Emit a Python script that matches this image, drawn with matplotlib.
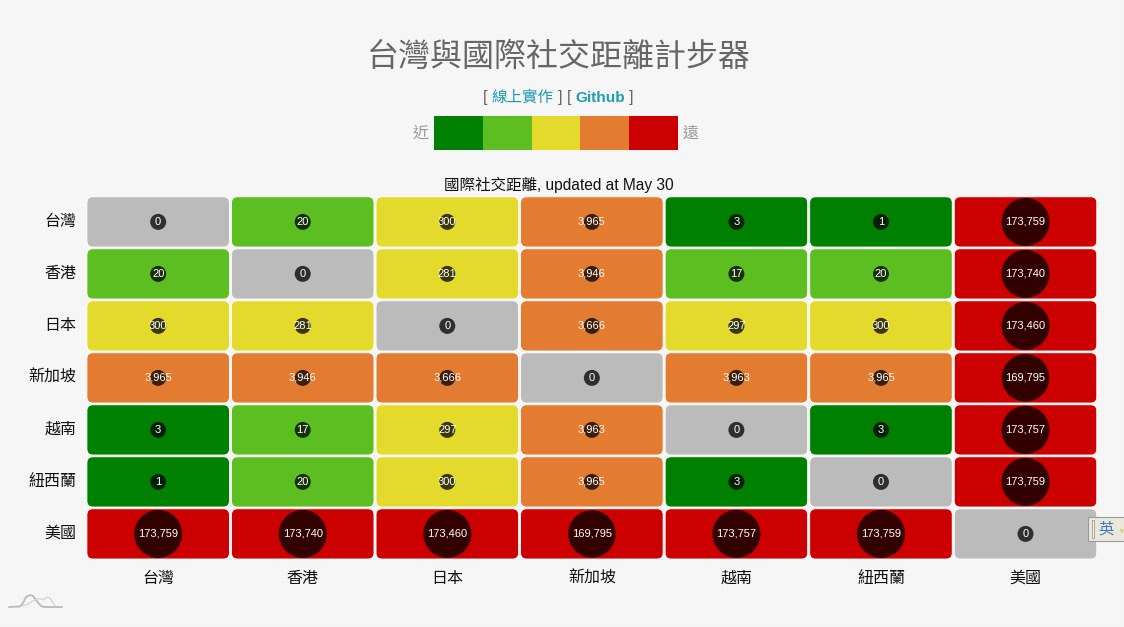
import numpy as np
import matplotlib
matplotlib.use("Agg")
import matplotlib.pyplot as plt
from matplotlib.patches import FancyBboxPatch, Rectangle
from matplotlib.transforms import ScaledTranslation

plt.rcParams['font.family'] = ['Liberation Sans', 'Noto Sans CJK TC', 'DejaVu Sans']

countries = ['台灣', '香港', '日本', '新加坡', '越南', '紐西蘭', '美國']
row_taiwan = [0, 20, 300, 3965, 3, 1, 173759]
row_hongkong = [20, 0, 281, 3946, 17, 20, 173740]
row_japan = [300, 281, 0, 3666, 297, 300, 173460]
row_singapore = [3965, 3946, 3666, 0, 3963, 3965, 169795]
row_vietnam = [3, 17, 297, 3963, 0, 3, 173757]
row_newzealand = [1, 20, 300, 3965, 3, 0, 173759]
row_usa = [173759, 173740, 173460, 169795, 173757, 173759, 0]
scale_colors = ['#008000', '#5dbe21', '#e3da2c', '#e37b30', '#cc0000']
scale_limits = [10, 100, 1000, 10000]
zero_color = '#bbbbbb'

W, H = 1124, 627
matrix = np.array([row_taiwan, row_hongkong, row_japan, row_singapore,
                   row_vietnam, row_newzealand, row_usa])

fig = plt.figure(figsize=(W / 100, H / 100), dpi=100, facecolor='#f5f5f5')


def px_axes(x0, y0, x1, y1, **kw):
    return fig.add_axes([x0 / W, 1 - y1 / H, (x1 - x0) / W, (y1 - y0) / H], **kw)


# overlay in pixel coordinates for page furniture
page = px_axes(0, 0, W, H)
page.set_xlim(0, W)
page.set_ylim(H, 0)
page.axis('off')
page.patch.set_alpha(0)

# subtle paper weave of the page
for gx in np.arange(0, W, 4):
    page.axvline(gx, color='#f8f8f8', lw=0.7, zorder=0)
for gy in np.arange(0, H, 4):
    page.axhline(gy, color='#f8f8f8', lw=0.7, zorder=0)

page.text(559, 56.5, '台灣與國際社交距離計步器', ha='center', va='center',
          fontsize=23, color='#666666', family=['Noto Sans CJK TC'])
link = '#1f9bb0'
grey = '#666666'
for x, s, c, w, fs in [(483, '[', grey, 'normal', 11.5), (491.5, '線上實作', link, 'normal', 11.2),
                       (558, ']', grey, 'normal', 11.5), (567, '[', grey, 'normal', 11.5),
                       (575.5, 'Github', link, 'bold', 11), (629, ']', grey, 'normal', 11.5)]:
    page.text(x, 97.5, s, ha='left', va='center', fontsize=fs, color=c, weight=w)
page.text(421, 133, '近', ha='center', va='center', fontsize=11.5, color='#999999')
page.text(691, 133, '遠', ha='center', va='center', fontsize=11.5, color='#999999')
page.text(559, 185, '國際社交距離, updated at May 30', ha='center', va='center',
          fontsize=11.2, color='#111111')

# small mountain logo
page.plot([9, 20, 23, 26, 30, 33, 36, 39, 42, 45, 62], [607, 606.5, 603, 597, 595, 596, 600, 604, 606.5, 607, 607],
          color='#bcbcbc', lw=1.4, solid_capstyle='round')
page.plot([23, 28, 33, 37, 40, 43, 47, 50, 53, 55], [606, 604, 601, 599, 598.5, 600, 597, 598, 603, 606],
          color='#d2d2d2', lw=0.9)

# colour scale legend
legend = px_axes(434, 116, 678, 150)
legend.set_xlim(0, len(scale_colors))
legend.set_ylim(0, 1)
legend.axis('off')
for i, c in enumerate(scale_colors):
    legend.add_patch(Rectangle((i, 0), 1, 1, facecolor=c, edgecolor='none'))

# heat map
ax = px_axes(85.9, 195.9, 1097.8, 559.9)
ax.set_xlim(-0.5, 6.5)
ax.set_ylim(6.5, -0.5)
ax.patch.set_alpha(0)
for s in ax.spines.values():
    s.set_visible(False)
ax.set_xticks(range(7), countries, fontsize=11.5, color='#111111')
ax.set_yticks(range(7), countries, fontsize=11.5, color='#111111')
ax.tick_params(length=0)
ax.tick_params(axis='x', pad=16.6)
ax.tick_params(axis='y', pad=7)
for lab in ax.get_xticklabels():
    lab.set_va('baseline')
shift_down = ScaledTranslation(0, -4 / 100, fig.dpi_scale_trans)
for lab in ax.get_yticklabels():
    lab.set_va('baseline')
    lab.set_transform(lab.get_transform() + shift_down)

px_x, px_y = 1011.9 / 7, 364 / 7
cw, ch = 142.5 / px_x, 50.2 / px_y
rs = 6 / px_x
for r in range(7):
    for c in range(7):
        v = matrix[r, c]
        col = zero_color if v == 0 else scale_colors[np.searchsorted(scale_limits, v)]
        ax.add_patch(FancyBboxPatch((c - cw / 2, r - ch / 2), cw, ch,
                                    boxstyle=f'round,pad=0,rounding_size={rs}',
                                    mutation_aspect=px_x / px_y,
                                    facecolor=col, edgecolor='#ffffff', lw=0.6, zorder=1))

cols, rows = np.meshgrid(range(7), range(7))
radius = np.maximum(8, 24 * np.sqrt(matrix / matrix.max()))
ax.scatter(cols.ravel(), rows.ravel(), s=(2 * radius.ravel() * 0.72) ** 2,
           color='black', alpha=0.75, linewidths=0, zorder=2)
for r in range(7):
    for c in range(7):
        ax.text(c, r, f'{matrix[r, c]:,}', ha='center', va='center',
                fontsize=8, color='white', zorder=3)

# input-method badge at the right edge
top = px_axes(0, 0, W, H)
top.set_xlim(0, W)
top.set_ylim(H, 0)
top.axis('off')
top.patch.set_alpha(0)
top.add_patch(Rectangle((1088, 517), 37, 24, facecolor='#ebe7da', edgecolor='#9a9a9a', lw=0.8))
top.add_patch(Rectangle((1091.5, 520), 2, 18, facecolor='#f7f5ee', edgecolor='#999999', lw=0.6))
top.text(1106, 529, '英', ha='center', va='center', fontsize=11, color='#3f78bd',
         family=['Noto Sans CJK TC'])
top.text(1122, 531, '▾', ha='center', va='center', fontsize=5, color='#e0b84c', family=['DejaVu Sans'])

fig.savefig('out.png', dpi=100, facecolor=fig.get_facecolor())
